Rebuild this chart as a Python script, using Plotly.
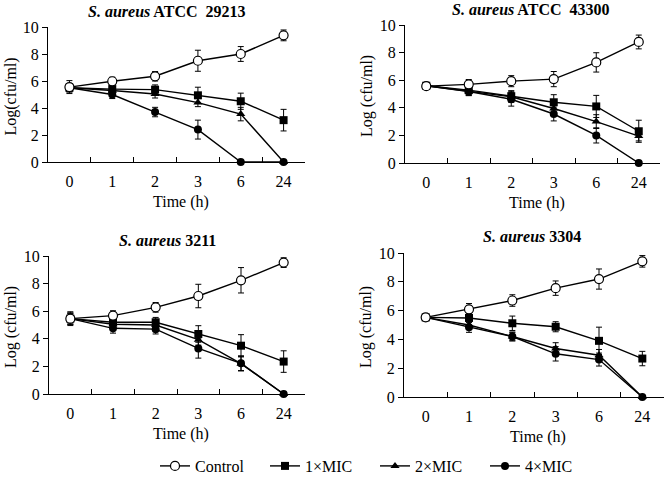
import plotly.graph_objects as go

times = ["0", "1", "2", "3", "6", "24"]
series_names = ["Control", "1×MIC", "2×MIC", "4×MIC"]
panel_titles = ["<b><i>S. aureus</i> ATCC  29213</b>", "<b><i>S. aureus</i> ATCC  43300</b>",
                "<b><i>S. aureus</i> 3211</b>", "<b><i>S. aureus</i> 3304</b>"]
ylabels = ["Log(cfu/ml)", "Log (cfu/ml)", "Log (cfu/ml)", "Log (cfu/ml)"]
y_ticks = [0, 2, 4, 6, 8, 10]

# Panel 1: ATCC 29213
p1_control = [5.55, 5.98, 6.35, 7.5, 8.0, 9.38]
p1_control_err = [0.48, 0.3, 0.35, 0.78, 0.55, 0.4]
p1_mic1 = [5.5, 5.4, 5.36, 4.94, 4.5, 3.1]
p1_mic1_err = [0.3, 0.3, 0.35, 0.6, 0.6, 0.8]
p1_mic2 = [5.5, 5.3, 5.04, 4.4, 3.55, 0.0]
p1_mic2_err = [0.3, 0.3, 0.3, 0.3, 0.5, 0.0]
p1_mic4 = [5.5, 5.0, 3.7, 2.4, 0.0, 0.0]
p1_mic4_err = [0.3, 0.3, 0.35, 0.7, 0.0, 0.0]

# Panel 2: ATCC 43300
p2_control = [5.57, 5.7, 5.93, 6.08, 7.29, 8.77]
p2_control_err = [0.2, 0.35, 0.4, 0.55, 0.7, 0.5]
p2_mic1 = [5.6, 5.28, 4.84, 4.4, 4.1, 2.3]
p2_mic1_err = [0.2, 0.3, 0.4, 0.55, 0.8, 0.8]
p2_mic2 = [5.6, 5.2, 4.8, 3.95, 3.0, 1.95]
p2_mic2_err = [0.2, 0.3, 0.4, 0.4, 0.5, 0.35]
p2_mic4 = [5.6, 5.18, 4.62, 3.55, 2.0, 0.0]
p2_mic4_err = [0.2, 0.3, 0.5, 0.5, 0.55, 0.0]

# Panel 3: 3211
p3_control = [5.46, 5.68, 6.28, 7.1, 8.24, 9.52]
p3_control_err = [0.5, 0.35, 0.35, 0.85, 0.92, 0.35]
p3_mic1 = [5.46, 5.2, 5.2, 4.35, 3.5, 2.35]
p3_mic1_err = [0.4, 0.3, 0.35, 0.6, 0.8, 0.78]
p3_mic2 = [5.46, 5.05, 5.0, 3.94, 2.2, 0.0]
p3_mic2_err = [0.4, 0.3, 0.35, 0.4, 0.5, 0.0]
p3_mic4 = [5.46, 4.76, 4.7, 3.3, 2.22, 0.0]
p3_mic4_err = [0.4, 0.35, 0.35, 0.7, 0.55, 0.0]

# Panel 4: 3304
p4_control = [5.53, 6.09, 6.7, 7.56, 8.19, 9.42]
p4_control_err = [0.2, 0.4, 0.4, 0.5, 0.7, 0.4]
p4_mic1 = [5.53, 5.49, 5.12, 4.88, 3.9, 2.67]
p4_mic1_err = [0.2, 0.3, 0.5, 0.35, 0.95, 0.5]
p4_mic2 = [5.53, 5.0, 4.2, 3.37, 2.9, 0.0]
p4_mic2_err = [0.2, 0.3, 0.3, 0.4, 0.4, 0.0]
p4_mic4 = [5.53, 4.84, 4.2, 3.0, 2.6, 0.0]
p4_mic4_err = [0.2, 0.35, 0.3, 0.5, 0.45, 0.0]

panels = [
    [(p1_control, p1_control_err), (p1_mic1, p1_mic1_err), (p1_mic2, p1_mic2_err), (p1_mic4, p1_mic4_err)],
    [(p2_control, p2_control_err), (p2_mic1, p2_mic1_err), (p2_mic2, p2_mic2_err), (p2_mic4, p2_mic4_err)],
    [(p3_control, p3_control_err), (p3_mic1, p3_mic1_err), (p3_mic2, p3_mic2_err), (p3_mic4, p3_mic4_err)],
    [(p4_control, p4_control_err), (p4_mic1, p4_mic1_err), (p4_mic2, p4_mic2_err), (p4_mic4, p4_mic4_err)],
]

W, H = 666, 483
FONT = "Liberation Serif, Times New Roman, serif"
FS = 16

# pixel boxes: (x0, x1, ytop, ybottom)
boxes = [(48, 305, 27, 162), (405, 660, 25, 163), (49, 305, 256, 394), (404, 664, 253, 397)]

markers = [
    dict(symbol="circle", size=9, color="white", line=dict(color="black", width=1.2)),
    dict(symbol="square", size=8, color="black", line=dict(color="black", width=0)),
    dict(symbol="triangle-up", size=8, color="black", line=dict(color="black", width=0)),
    dict(symbol="circle", size=8, color="black", line=dict(color="black", width=0)),
]

fig = go.Figure()
for pi, series in enumerate(panels):
    ax = "" if pi == 0 else str(pi + 1)
    order = [1, 2, 3, 0]
    for si in order:
        vals, errs = series[si]
        fig.add_trace(go.Scatter(
            x=times, y=vals, mode="lines+markers", name=series_names[si],
            legendrank=si, showlegend=(pi == 0), cliponaxis=False,
            line=dict(color="black", width=1.4),
            marker=markers[si],
            error_y=dict(type="data", array=errs, visible=True, color="black", thickness=1, width=3),
            xaxis="x" + ax, yaxis="y" + ax,
        ))

layout = dict(
    width=W, height=H, margin=dict(l=0, r=0, t=0, b=0, autoexpand=False),
    paper_bgcolor="white", plot_bgcolor="white",
    font=dict(family=FONT, size=FS, color="black"),
    showlegend=True,
    legend=dict(orientation="h", x=155 / W, y=1 - 466 / H, xanchor="left", yanchor="middle",
                font=dict(family=FONT, size=FS), itemwidth=30,
                entrywidth=65, entrywidthmode="pixels", traceorder="normal"),
)
annotations = []
for pi, (x0, x1, yt, yb) in enumerate(boxes):
    ax = "" if pi == 0 else str(pi + 1)
    layout["xaxis" + ax] = dict(
        domain=[x0 / W, x1 / W], anchor="y" + ax, type="category",
        categoryorder="array", categoryarray=times, automargin=False,
        range=[-0.5, 5.5], showline=True, linecolor="black", linewidth=1,
        ticks="inside", tickson="boundaries", ticklen=5, tickcolor="black",
        showgrid=False, zeroline=False, ticklabelstandoff=5,
        tickfont=dict(family=FONT, size=FS),
    )
    layout["yaxis" + ax] = dict(
        domain=[1 - yb / H, 1 - yt / H], anchor="x" + ax, automargin=False,
        range=[0, 10], tickvals=y_ticks, showline=True, linecolor="black", linewidth=1,
        ticks="outside", ticklen=5, tickcolor="black", showgrid=False, zeroline=False,
        tickfont=dict(family=FONT, size=FS),
    )
    cx = (x0 + x1) / 2
    annotations.append(dict(text=panel_titles[pi], x=(cx - 10 if pi % 2 == 0 else cx - 2) / W,
                            y=1 - (yt - 16) / H, xref="paper", yref="paper",
                            showarrow=False, xanchor="center", yanchor="middle",
                            font=dict(family=FONT, size=FS)))
    annotations.append(dict(text="Time (h)", x=(cx + 4) / W, y=1 - (yb + 40) / H,
                            xref="paper", yref="paper", showarrow=False,
                            xanchor="center", yanchor="middle", font=dict(family=FONT, size=FS)))
    annotations.append(dict(text=ylabels[pi], x=(x0 - 38) / W, y=1 - ((yt + yb) / 2 + 2) / H,
                            xref="paper", yref="paper", showarrow=False, textangle=-90,
                            xanchor="center", yanchor="middle", font=dict(family=FONT, size=FS)))
layout["annotations"] = annotations
fig.update_layout(**layout)
fig.write_html("out.html", config={"displayModeBar": False},
               post_script="document.body.style.margin='0';document.body.style.overflow='hidden';")
